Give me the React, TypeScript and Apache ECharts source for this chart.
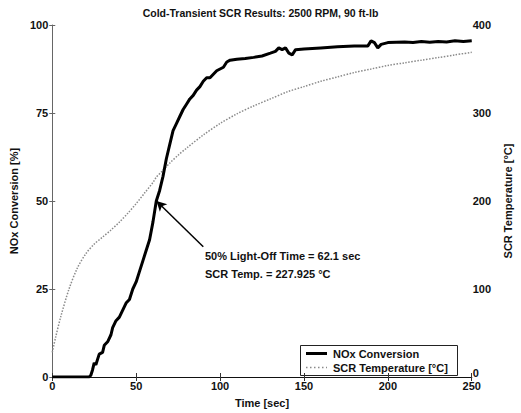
import React, { useEffect, useRef } from "react";
import * as echarts from "echarts";

const titleText = "Cold-Transient SCR Results: 2500 RPM, 90 ft-lb";
const xAxisName = "Time [sec]";
const leftAxisName = "NOx Conversion [%]";
const rightAxisName = "SCR Temperature [\u00B0C]";
const seriesNames = ["NOx Conversion", "SCR Temperature [\u00B0C]"];
const annotationLines = ["50% Light-Off Time = 62.1 sec", "SCR Temp. = 227.925 \u00B0C"];
const lightOffPoint = [62.1, 50];
const arrowTail = [90, 37];

const noxTime = [0, 22, 23, 24, 25, 26, 27, 28, 30, 31, 33, 35, 36, 38, 40, 42, 44, 46, 48, 50, 52, 54, 56, 58, 60, 62, 64, 66, 68, 70, 72, 74, 76, 78, 80, 82, 84, 86, 88, 90, 92, 94, 96, 98, 100, 102, 104, 106, 110, 115, 120, 125, 130, 133, 135, 137, 139, 141, 143, 145, 150, 160, 170, 180, 188, 190, 192, 194, 196, 200, 205, 210, 215, 220, 225, 230, 235, 240, 245, 250];
const noxValue = [0, 0, 0.5, 2, 4, 3.5, 5, 6.5, 7, 9, 10, 12, 14, 16, 17, 19, 21, 22, 25, 27, 30, 33, 36, 39, 44, 50, 53, 57, 62, 66, 70, 72, 74, 76, 77.5, 79, 80, 81.5, 82.5, 84, 85, 85, 86, 87, 87.5, 88, 89.5, 90, 90.3, 90.5, 90.8, 91.2, 92, 92.5, 93.5, 93, 93.5, 92, 91.5, 93, 93.2, 93.5, 93.8, 94, 94, 95.5, 95, 93.5, 94.5, 95, 95.1, 95.2, 95, 95.3, 95.1, 95.3, 95.2, 95.5, 95.3, 95.5];

const tempTime = [0, 2, 5, 10, 15, 20, 25, 30, 35, 40, 45, 50, 55, 60, 62, 65, 70, 75, 80, 90, 100, 110, 120, 130, 140, 150, 160, 170, 180, 190, 200, 210, 220, 230, 240, 250];
const tempValue = [28, 45, 68, 100, 124, 140, 151, 159, 167, 176, 186, 197, 209, 221, 227, 233, 243, 252, 260, 275, 288, 299, 308, 316, 324, 330, 336, 341, 346, 350, 354, 357, 360, 363, 366, 369];

const xTicks = { min: 0, max: 250, interval: 50 };
const leftTicks = { min: 0, max: 100, interval: 25 };
const rightTicks = { min: 0, max: 400, interval: 100 };

const FONT = "'Liberation Sans', Arial, sans-serif";

export default function App() {
  const ref = useRef<HTMLDivElement>(null);
  useEffect(() => {
    if (!ref.current) return;
    const chart = echarts.init(ref.current, null, { renderer: "svg" });
    const labelStyle = { fontFamily: FONT, fontWeight: "bold" as const, fontSize: 11, color: "#111" };
    const noxData = noxTime.map((t, i) => [t, noxValue[i]]);
    const tempData = tempTime.map((t, i) => [t, tempValue[i]]);
    chart.setOption({
      animation: false,
      backgroundColor: "#fff",
      title: {
        text: titleText,
        left: "center",
        top: 2,
        textStyle: { fontFamily: FONT, fontWeight: "bold", fontSize: 10.5, color: "#111" },
      },
      grid: { left: 44, right: 30, top: 25, bottom: 33 },
      xAxis: [
        {
          type: "value",
          ...xTicks,
          name: xAxisName,
          nameLocation: "middle",
          nameGap: 20,
          nameTextStyle: labelStyle,
          axisLine: { show: true, lineStyle: { color: "#111", width: 1 } },
          axisTick: { show: true, inside: true, length: 4, lineStyle: { color: "#333" } },
          axisLabel: { ...labelStyle, margin: 3 },
          splitLine: { show: false },
        },
        {
          type: "value",
          position: "top",
          ...xTicks,
          axisLine: { show: true, lineStyle: { color: "#111", width: 1 } },
          axisTick: { show: true, inside: true, length: 4, lineStyle: { color: "#333" } },
          axisLabel: { show: false },
          splitLine: { show: false },
        },
      ],
      yAxis: [
        {
          type: "value",
          ...leftTicks,
          name: leftAxisName,
          nameLocation: "middle",
          nameGap: 27,
          nameTextStyle: labelStyle,
          axisLine: { show: true, lineStyle: { color: "#666", width: 1 } },
          axisTick: { show: true, length: 3, lineStyle: { color: "#666" } },
          axisLabel: { ...labelStyle, margin: 4 },
          splitLine: { show: false },
        },
        {
          type: "value",
          position: "right",
          ...rightTicks,
          name: rightAxisName,
          nameLocation: "middle",
          nameGap: 25,
          nameRotate: 90,
          nameTextStyle: labelStyle,
          axisLine: { show: false },
          axisTick: { show: true, length: 3, lineStyle: { color: "#666" } },
          axisLabel: {
            ...labelStyle,
            margin: 1,
            formatter: (v: number) => (v === 0 ? "{z|0}" : String(v)),
            rich: { z: { ...labelStyle, padding: [0, 0, 9, 0] } },
          },
          splitLine: { show: false },
        },
      ],
      series: [
        {
          name: seriesNames[1],
          type: "line",
          yAxisIndex: 1,
          data: tempData,
          smooth: 0.3,
          symbol: "none",
          lineStyle: { color: "#8a8a8a", width: 1.5, type: [1.5, 1.5] },
          itemStyle: { color: "#8a8a8a" },
          z: 2,
        },
        {
          name: seriesNames[0],
          type: "line",
          yAxisIndex: 0,
          data: noxData,
          symbol: "none",
          lineStyle: { color: "#000", width: 3 },
          itemStyle: { color: "#000" },
          z: 3,
          markLine: {
            silent: true,
            symbol: ["arrow", "none"],
            symbolSize: [8, 10],
            lineStyle: { color: "#000", width: 1.5, type: "solid" },
            label: { show: false },
            data: [[{ coord: lightOffPoint }, { coord: arrowTail }]],
          },
        },
      ],
      graphic: [
        {
          type: "text",
          left: 205,
          top: 250,
          style: { text: annotationLines[0], font: `bold 11px ${FONT}`, fill: "#111" },
        },
        {
          type: "text",
          left: 205,
          top: 268,
          style: { text: annotationLines[1], font: `bold 11px ${FONT}`, fill: "#111" },
        },
        {
          type: "group",
          left: 300,
          top: 345,
          z: 10,
          children: [
            {
              type: "rect",
              shape: { x: 0.5, y: 0.5, width: 157, height: 30 },
              style: { fill: "#fff", stroke: "#222", lineWidth: 1 },
            },
            {
              type: "line",
              shape: { x1: 6, y1: 8.5, x2: 27, y2: 8.5 },
              style: { stroke: "#000", lineWidth: 3 },
            },
            {
              type: "line",
              shape: { x1: 6, y1: 22.5, x2: 27, y2: 22.5 },
              style: { stroke: "#8a8a8a", lineWidth: 1.5, lineDash: [1.5, 2.5] },
            },
            {
              type: "text",
              x: 33,
              y: 8.5,
              style: { text: seriesNames[0], font: `bold 11px ${FONT}`, fill: "#111", verticalAlign: "middle" },
            },
            {
              type: "text",
              x: 33,
              y: 22.5,
              style: { text: seriesNames[1], font: `bold 11px ${FONT}`, fill: "#111", verticalAlign: "middle" },
            },
          ],
        },
      ],
    });
    return () => chart.dispose();
  }, []);
  return <div ref={ref} style={{ width: 521, height: 413, position: "absolute", left: 0, top: 0 }} />;
}
